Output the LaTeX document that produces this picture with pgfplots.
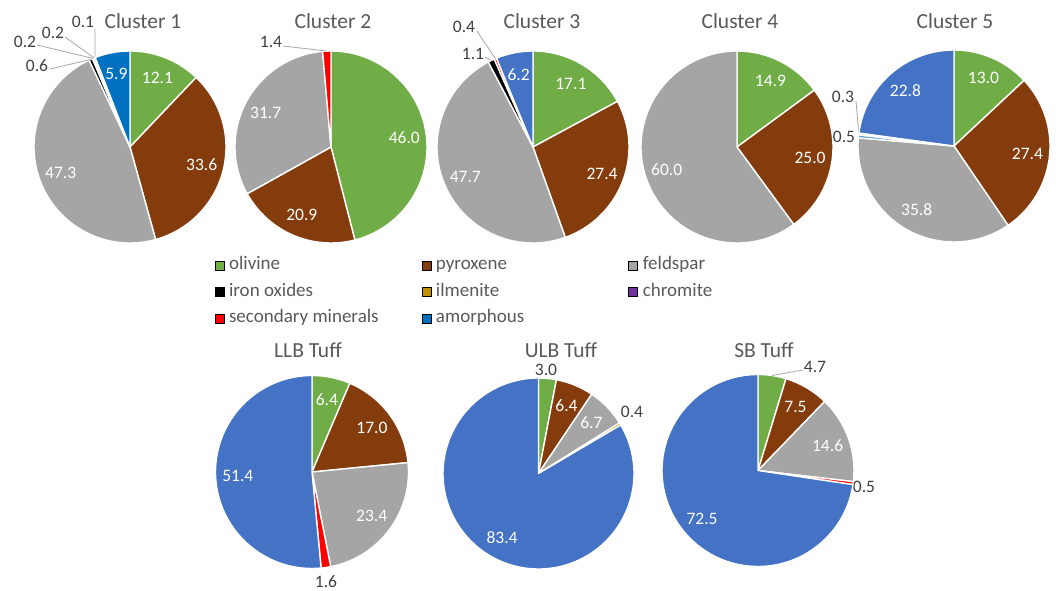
\documentclass[border=0pt]{standalone}
\usepackage{pgfplots}
\pgfplotsset{compat=1.18}
\usepackage{pgfplotstable}
\usepackage{fontspec}
\setmainfont{Carlito}

\definecolor{olivine}{HTML}{70AD47}
\definecolor{pyroxene}{HTML}{843C0C}
\definecolor{feldspar}{HTML}{A5A5A5}
\definecolor{ironox}{HTML}{000000}
\definecolor{ilmenite}{HTML}{BF9000}
\definecolor{chromite}{HTML}{7030A0}
\definecolor{secondary}{HTML}{FF0000}
\definecolor{amorphous}{HTML}{0070C0}
\definecolor{glass}{HTML}{4472C4}
\definecolor{paleblue}{HTML}{5B9BD5}
\definecolor{titlegray}{HTML}{595959}
\definecolor{labelgray}{HTML}{404040}
\definecolor{leadergray}{HTML}{A6A6A6}

\newcommand\titlefont{\fontsize{21.5bp}{26bp}\selectfont}
\newcommand\lblfont{\fontsize{17.5bp}{21bp}\selectfont}
\newcommand\legfont{\fontsize{19bp}{22bp}\selectfont}
% legend entry of fixed width
\newcommand\legentry[1]{\makebox[192.5bp][l]{#1}}

% Phase abundances (vol.%) per sample, in clockwise order from 12 o'clock.
% m: 0 = label inside, 1 = label outside, 2 = label outside with leader line
% lx ly: outside label centre, ax ay: leader start (page units, y downwards)
\pgfplotstableread{
v    c         m lx  ly  ax  ay
12.1 olivine   0 0   0   0   0
33.6 pyroxene  0 0   0   0   0
47.3 feldspar  0 0   0   0   0
0.6  ironox    2 37  66  50  69
0.2  ilmenite  2 25  42  37  45
0.2  chromite  2 53  33  65  37
0.1  secondary 2 83  22  95  29
5.9  amorphous 0 0   0   0   0
}\clusterA
\pgfplotstableread{
v    c         m lx  ly  ax  ay
46.0 olivine   0 0   0   0   0
20.9 pyroxene  0 0   0   0   0
31.7 feldspar  0 0   0   0   0
1.4  secondary 2 271 42  283 46
}\clusterB
\pgfplotstableread{
v    c         m lx  ly  ax  ay
17.1 olivine   0 0   0   0   0
27.4 pyroxene  0 0   0   0   0
47.7 feldspar  0 0   0   0   0
1.1  ironox    2 473 54  485 57
0.4  secondary 2 464 27  477 31
6.2  glass     0 0   0   0   0
}\clusterC
\pgfplotstableread{
v    c         m lx  ly  ax  ay
14.9 olivine   0 0   0   0   0
25.0 pyroxene  0 0   0   0   0
60.0 feldspar  0 0   0   0   0
}\clusterD
\pgfplotstableread{
v    c         m lx  ly  ax  ay
13.0 olivine   0 0   0   0   0
27.4 pyroxene  0 0   0   0   0
35.8 feldspar  0 0   0   0   0
0.5  paleblue  1 844 137 0   0
0.3  paleblue  2 843 97  856 101
22.8 glass     0 0   0   0   0
}\clusterE
\pgfplotstableread{
v    c         m lx  ly  ax  ay
6.4  olivine   0 0   0   0   0
17.0 pyroxene  0 0   0   0   0
23.4 feldspar  0 0   0   0   0
1.6  secondary 1 326 582 0   0
51.4 glass     0 0   0   0   0
}\tuffLLB
\pgfplotstableread{
v    c         m lx  ly  ax  ay
3.0  olivine   1 546 370 0   0
6.4  pyroxene  0 0   0   0   0
6.7  feldspar  0 0   0   0   0
0.4  ilmenite  1 632 412 0   0
83.4 glass     0 0   0   0   0
}\tuffULB
\pgfplotstableread{
v    c         m lx  ly  ax  ay
4.7  olivine   2 815 367 803 370
7.5  pyroxene  0 0   0   0   0
14.6 feldspar  0 0   0   0   0
0.5  secondary 1 864 487 0   0
72.5 glass     0 0   0   0   0
}\tuffSB

% \pie{table}{centre x}{centre y (downwards)}{radius}
\newcommand\pie[4]{%
  \pgfplotsextra{%
    \pgfplotstablegetrowsof{#1}%
    \pgfmathtruncatemacro\pielast{\pgfplotsretval-1}%
    \gdef\pietot{0}%
    \foreach \i in {0,...,\pielast}{%
      \pgfplotstablegetelem{\i}{v}\of#1%
      \pgfmathsetmacro\pietmp{\pietot+\pgfplotsretval}%
      \xdef\pietot{\pietmp}}%
    \gdef\piecum{0}%
    \foreach \i in {0,...,\pielast}{%
      \pgfplotstablegetelem{\i}{v}\of#1\let\pieval\pgfplotsretval
      \pgfplotstablegetelem{\i}{c}\of#1\let\piecol\pgfplotsretval
      \pgfplotstablegetelem{\i}{m}\of#1\let\piemode\pgfplotsretval
      \pgfmathsetmacro\aS{90-(\piecum/\pietot)*360}%
      \pgfmathsetmacro\aE{90-((\piecum+\pieval)/\pietot)*360}%
      \pgfmathsetmacro\aM{(\aS+\aE)/2}%
      \fill[\piecol, draw=white, line width=1.4bp, line join=round]
        (axis cs:#2,-#3) -- ++(\aS:#4bp)
        arc[start angle=\aS, end angle=\aE, radius=#4bp] -- cycle;
      \ifnum\piemode=0
        \pgfmathsetmacro\lr{0.77*#4}%
        \path (axis cs:#2,-#3) ++(\aM:\lr bp)
          node[text=white, font=\lblfont, inner sep=0pt] {\pieval};
      \else
        \pgfplotstablegetelem{\i}{lx}\of#1\let\lx\pgfplotsretval
        \pgfplotstablegetelem{\i}{ly}\of#1\let\ly\pgfplotsretval
        \node[text=labelgray, font=\lblfont, inner sep=0pt] at (axis cs:\lx,-\ly) {\pieval};
        \ifnum\piemode=2
          \pgfplotstablegetelem{\i}{ax}\of#1\let\ax\pgfplotsretval
          \pgfplotstablegetelem{\i}{ay}\of#1\let\ay\pgfplotsretval
          \pgfmathsetmacro\ex{#2+#4*cos(\aM)}%
          \pgfmathsetmacro\ey{-#3+#4*sin(\aM)}%
          \draw[leadergray, line width=0.8bp] (axis cs:\ax,-\ay) -- (axis cs:\ex,\ey);
        \fi
      \fi
      \pgfmathsetmacro\pietmp{\piecum+\pieval}%
      \xdef\piecum{\pietmp}}%
  }%
}

\begin{document}
\begin{tikzpicture}
\begin{axis}[
  x=1bp, y=1bp,
  xmin=0, xmax=1056, ymin=-591, ymax=0,
  hide axis, clip=false,
  legend columns=3,
  legend cell align=left,
  legend image code/.code={\fill[#1] (0bp,-4.5bp) rectangle (9bp,4.5bp);},
  legend style={draw=none, fill=none, at={(0.2031,0.5740)}, anchor=north west,
    inner sep=0pt, font=\legfont, text=titlegray,
    nodes={inner sep=0pt, text height=17.75bp, text depth=8.75bp},
    /tikz/every odd column/.append style={column sep=5bp}},
]
\addlegendimage{fill=olivine}   \addlegendentry{\legentry{olivine}}
\addlegendimage{fill=pyroxene}  \addlegendentry{\legentry{pyroxene}}
\addlegendimage{fill=feldspar}  \addlegendentry{\legentry{feldspar}}
\addlegendimage{fill=ironox}    \addlegendentry{\legentry{iron oxides}}
\addlegendimage{fill=ilmenite}  \addlegendentry{\legentry{ilmenite}}
\addlegendimage{fill=chromite}  \addlegendentry{\legentry{chromite}}
\addlegendimage{fill=secondary} \addlegendentry{\legentry{secondary minerals}}
\addlegendimage{fill=amorphous} \addlegendentry{\legentry{amorphous}}

\pie{\clusterA}{130}{147}{96}
\pie{\clusterB}{331}{147}{96}
\pie{\clusterC}{533}{147}{96}
\pie{\clusterD}{737}{147}{96}
\pie{\clusterE}{954}{146}{96}
\pie{\tuffLLB}{312}{472}{96.5}
\pie{\tuffULB}{538.5}{473.5}{95.5}
\pie{\tuffSB}{758}{470.5}{96}

\begin{scope}[every node/.style={text=titlegray, font=\titlefont, inner sep=0pt}]
\node at (axis cs:143,-21)  {Cluster 1};
\node at (axis cs:333,-21)  {Cluster 2};
\node at (axis cs:542,-21)  {Cluster 3};
\node at (axis cs:740,-21)  {Cluster 4};
\node at (axis cs:955,-21)  {Cluster 5};
\node at (axis cs:308,-350) {LLB Tuff};
\node at (axis cs:561,-350) {ULB Tuff};
\node at (axis cs:764,-350) {SB Tuff};
\end{scope}
\end{axis}
\pgfresetboundingbox
\useasboundingbox (current axis.south west) rectangle (current axis.north east);
\end{tikzpicture}
\end{document}
